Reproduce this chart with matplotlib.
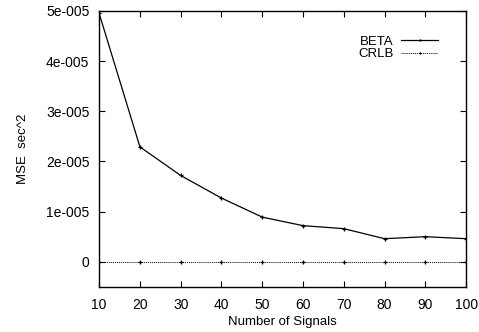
import numpy as np
import matplotlib.pyplot as plt
from matplotlib.ticker import FuncFormatter

plt.rcParams.update({'font.family': 'Liberation Sans', 'font.size': 9.5})

signals = [10, 20, 30, 40, 50, 60, 70, 80, 90, 100]
beta_mse = [4.95e-5, 2.29e-5, 1.72e-5, 1.27e-5, 0.89e-5, 0.72e-5, 0.66e-5, 0.46e-5, 0.50e-5, 0.46e-5]
crlb_mse = [0, 0, 0, 0, 0, 0, 0, 0, 0, 0]


def gnu_fmt(v, pos):
    # gnuplot-like "1e-005" labels
    if abs(v) < 1e-12:
        return '0'
    m, e = ('%.0e' % v).split('e')
    return '%se%s%03d' % (m, '-' if int(e) < 0 else '+', abs(int(e)))


fig = plt.figure(figsize=(4.79, 3.32), dpi=100)
ax = fig.add_axes([0.207, 0.136, 0.766, 0.831])

ax.plot(signals, beta_mse, color='black', lw=0.9, marker='+', ms=3, mew=0.9, label='BETA')
ax.plot(signals, crlb_mse, color='black', lw=0.7, ls=(0, (1, 1)), marker='+', ms=3, mew=0.9, label='CRLB')

ax.set_xlim(10, 100)
ax.set_ylim(-0.5e-5, 5e-5)
ax.set_xticks(signals)
ax.set_yticks([0, 1e-5, 2e-5, 3e-5, 4e-5, 5e-5])
ax.yaxis.set_major_formatter(FuncFormatter(gnu_fmt))
ax.tick_params(direction='in', top=True, right=True, length=4, width=0.8, labelsize=10)
ax.tick_params(axis='x', pad=8)
ax.tick_params(axis='y', pad=7)
for s in ax.spines.values():
    s.set_linewidth(1.0)

ax.set_xlabel('Number of Signals', fontsize=9.5, labelpad=3)
ax.set_ylabel('MSE  sec^2', fontsize=9.5, labelpad=12)

ax.legend(loc='upper right', bbox_to_anchor=(0.924, 0.91), frameon=False, markerfirst=False,
          borderaxespad=0, borderpad=0, handlelength=2.8, handletextpad=0.6,
          labelspacing=0.0, fontsize=9.5, markerscale=0.4)

fig.savefig('out.png', dpi=100)
